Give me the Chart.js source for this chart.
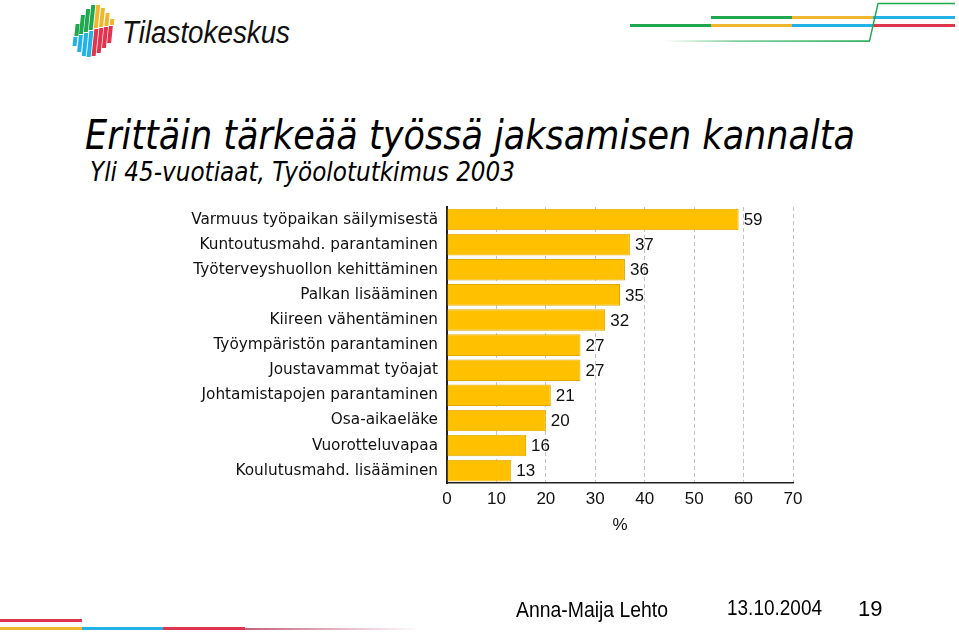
<!DOCTYPE html>
<html>
<head>
<meta charset="utf-8">
<script src="https://cdn.jsdelivr.net/npm/chart.js@4/dist/chart.umd.min.js"></script>
<style>
  html, body { margin: 0; padding: 0; background: #fff; }
  #page { position: relative; width: 959px; height: 635px; overflow: hidden; background: #fff; }
  #chartBox { position: absolute; left: 0; top: 0; width: 959px; height: 635px; }
  .abs { position: absolute; }
  .txt { position: absolute; white-space: nowrap; color: #000; transform-origin: 0 0; }
  .line { position: absolute; height: 3px; }
</style>
</head>
<body>
<div id="page">
  <!-- logo -->
  <div id="logo"></div>
  <div class="txt" id="logoText" style="left:122px; top:15px; font: italic 31px 'Liberation Sans Narrow', 'Liberation Sans', sans-serif; color:#111;">Tilastokeskus</div>

  <!-- top right stripes -->
  <div class="line" style="left:711px; top:16px; width:81px; background:#1fa84f;"></div>
  <div class="line" style="left:792px; top:16px; width:81px; background:#f0b62e;"></div>
  <div class="line" style="left:873px; top:16px; width:82px; background:#22b2e6;"></div>
  <div class="line" style="left:630px; top:24px; width:81px; background:#1fa84f;"></div>
  <div class="line" style="left:711px; top:24px; width:81px; background:#f0b62e;"></div>
  <div class="line" style="left:792px; top:24px; width:81px; background:#22b2e6;"></div>
  <div class="line" style="left:873px; top:24px; width:82px; background:#e0344f;"></div>
  <svg class="abs" style="left:0; top:0;" width="959" height="60">
    <defs>
      <linearGradient id="gfade" x1="0" x2="1" y1="0" y2="0">
        <stop offset="0" stop-color="#1fa84f" stop-opacity="0"/>
        <stop offset="0.35" stop-color="#1fa84f" stop-opacity="0.6"/>
        <stop offset="1" stop-color="#1fa84f"/>
      </linearGradient>
    </defs>
    <rect x="663" y="40.3" width="207" height="1.6" fill="url(#gfade)"/>
    <polyline points="869.5,41 878,3.5 955,3.5" fill="none" stroke="#1fa84f" stroke-width="1.4"/>
  </svg>

  <!-- titles -->
  <div class="txt" id="title" style="left:85px; top:112px; font: italic 40px 'DejaVu Sans', sans-serif;">Erittäin tärkeää työssä jaksamisen kannalta</div>
  <div class="txt" id="subtitle" style="left:90px; top:157px; font: italic 26px 'DejaVu Sans', sans-serif;">Yli 45-vuotiaat, Työolotutkimus 2003</div>

  <div id="chartBox"><canvas id="chart" width="959" height="635"></canvas></div>

  <!-- footer -->
  <div class="txt" id="author" style="left:516px; top:597px; font: 22px 'Liberation Sans Narrow', sans-serif;">Anna-Maija Lehto</div>
  <div class="txt" id="date" style="left:727px; top:595px; font: 22px 'Liberation Sans Narrow', sans-serif;">13.10.2004</div>
  <div class="txt" style="left:858px; top:596px; font: 22px 'Liberation Sans Narrow', sans-serif;">19</div>

  <!-- bottom left stripes -->
  <div class="line" style="left:0; top:619px; width:82px; background:#e0344f;"></div>
  <div class="line" style="left:0; top:627px; width:82px; background:#f0b62e;"></div>
  <div class="line" style="left:82px; top:627px; width:81px; background:#22b2e6;"></div>
  <div class="line" style="left:163px; top:627px; width:82px; background:#e0344f;"></div>
  <div class="line" style="left:245px; top:628px; width:175px; height:2px; background:linear-gradient(to right, rgba(190,80,110,0.9), rgba(190,80,110,0));"></div>
</div>

<script>
// kategoriat ja arvot (%)
const categories = [
  'Varmuus työpaikan säilymisestä',
  'Kuntoutusmahd. parantaminen',
  'Työterveyshuollon kehittäminen',
  'Palkan lisääminen',
  'Kiireen vähentäminen',
  'Työympäristön parantaminen',
  'Joustavammat työajat',
  'Johtamistapojen parantaminen',
  'Osa-aikaeläke',
  'Vuorotteluvapaa',
  'Koulutusmahd. lisääminen'
];
const values = [59, 37, 36, 35, 32, 27, 27, 21, 20, 16, 13];
const axisMin = 0;
const axisMax = 70;
const axisStep = 10;
const axisTitle = '%';

// logon raidat: [x, ylä, jako, ala, yläväri, aläväri]
const logoStripes = [
  [75, 24, 36, 46, '#1fa84f', '#22b2e6'],
  [80, 15, 34, 52, '#1fa84f', '#22b2e6'],
  [85, 9, 32, 56, '#1fa84f', '#22b2e6'],
  [90, 5, 30, 57, '#1fa84f', '#22b2e6'],
  [95, 5, 28, 56, '#f0b62e', '#e0344f'],
  [100, 8, 27, 53, '#f0b62e', '#e0344f'],
  [105, 13, 26, 48, '#f0b62e', '#e0344f'],
  [110, 19, 25, 43, '#f0b62e', '#e0344f']
];

function drawLogo() {
  const logo = document.getElementById('logo');
  logoStripes.forEach(s => {
    const top = document.createElement('div');
    top.className = 'abs';
    top.style.cssText = `left:${s[0]}px; top:${s[1]}px; width:3.5px; height:${s[2] - s[1]}px; background:${s[4]}; transform:skewX(-6deg);`;
    const bot = document.createElement('div');
    bot.className = 'abs';
    bot.style.cssText = `left:${s[0] - 2}px; top:${s[2] + 1}px; width:3.5px; height:${s[3] - s[2] - 1}px; background:${s[5]}; transform:skewX(-6deg);`;
    logo.appendChild(top);
    logo.appendChild(bot);
  });
}

// sovita teksti annettuun leveyteen
function fitWidth(id, width) {
  const el = document.getElementById(id);
  const w = el.getBoundingClientRect().width;
  el.style.transform = `scaleX(${width / w})`;
}

// arvot palkkien perään
const valueLabels = {
  id: 'valueLabels',
  afterDatasetsDraw(chart) {
    const ctx = chart.ctx;
    const meta = chart.getDatasetMeta(0);
    ctx.save();
    ctx.font = '17px "Liberation Sans", Arial, sans-serif';
    ctx.fillStyle = '#111';
    ctx.textBaseline = 'middle';
    ctx.textAlign = 'left';
    meta.data.forEach((bar, i) => {
      ctx.fillText(String(values[i]), bar.x + 5, bar.y + 1);
    });
    ctx.restore();
  }
};

function createChart() {
  const ctx = document.getElementById('chart').getContext('2d');
  new Chart(ctx, {
    type: 'bar',
    data: {
      labels: categories,
      datasets: [{
        data: values,
        backgroundColor: '#ffc000',
        borderColor: '#e0a800',
        borderWidth: 1,
        barPercentage: 0.86,
        categoryPercentage: 1.0
      }]
    },
    options: {
      indexAxis: 'y',
      responsive: false,
      animation: false,
      layout: { padding: { top: 207, right: 166, bottom: 99, left: 0 } },
      plugins: {
        legend: { display: false },
        tooltip: { enabled: false }
      },
      scales: {
        x: {
          min: axisMin,
          max: axisMax,
          grid: {
            color: '#c4c4c4',
            lineWidth: 1,
            drawTicks: false,
            borderDash: [4, 3]
          },
          border: { display: true, color: '#222', width: 1.5, dash: [4, 3] },
          ticks: {
            stepSize: axisStep,
            padding: 6,
            color: '#111',
            font: { family: '"Liberation Sans", Arial, sans-serif', size: 17 }
          },
          title: {
            display: true,
            text: axisTitle,
            color: '#111',
            padding: { top: 0, bottom: 0 },
            font: { family: '"Liberation Sans", Arial, sans-serif', size: 17 }
          }
        },
        y: {
          grid: { display: false, drawTicks: false },
          border: { display: true, color: '#222', width: 2 },
          afterFit(scale) { scale.width = 447; },
          ticks: {
            padding: 9,
            color: '#111',
            font: { family: '"DejaVu Sans", Verdana, sans-serif', size: 15.3 }
          }
        }
      }
    },
    plugins: [valueLabels]
  });
}

drawLogo();
fitWidth('logoText', 168);
fitWidth('title', 770);
fitWidth('subtitle', 425);
fitWidth('author', 152);
fitWidth('date', 95);
createChart();
</script>
</body>
</html>
